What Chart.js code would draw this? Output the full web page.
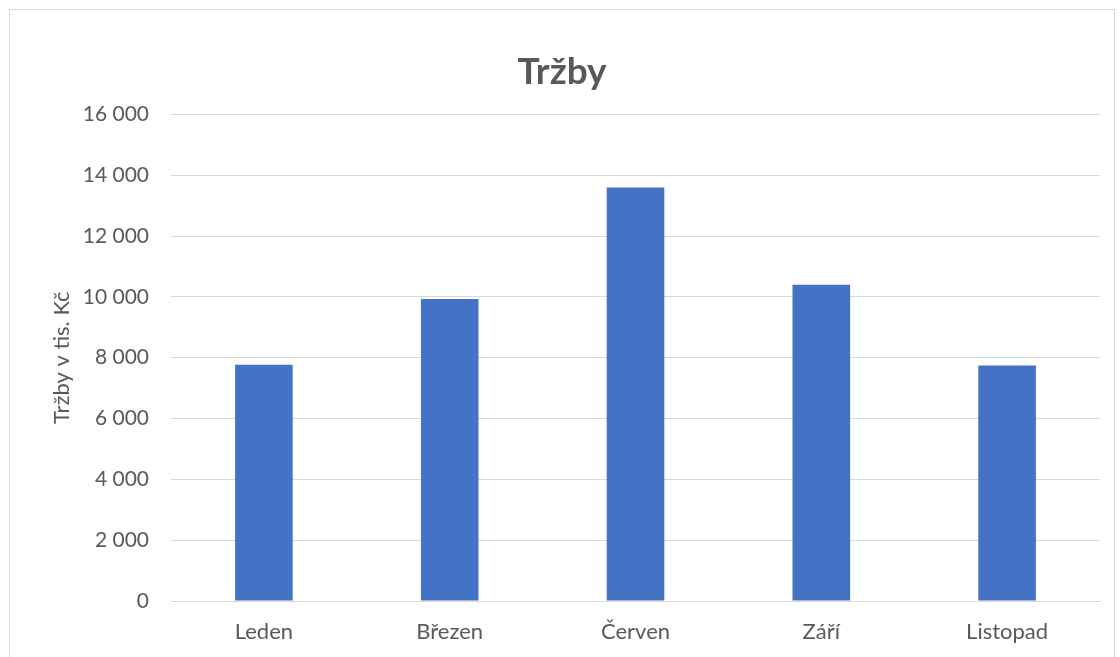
<!DOCTYPE html>
<html>
<head>
<meta charset="utf-8">
<script src="https://cdn.jsdelivr.net/npm/chart.js@4/dist/chart.umd.min.js"></script>
<style>
  body { margin: 0; background: #fff; }
  .frame { position: absolute; left: 9px; top: 9px; width: 1104px; height: 700px; border: 1px solid #d9d9d9; }
  .wrap { position: absolute; left: 0; top: 0; width: 1120px; height: 657px; }
</style>
</head>
<body>
<div class="frame"></div>
<div class="wrap"><canvas id="barChart" width="1120" height="657"></canvas></div>
<script>
var categories = ["Leden", "Březen", "Červen", "Září", "Listopad"];
var trzby = [7770, 9930, 13600, 10400, 7740];
var yTicks = [0, 2000, 4000, 6000, 8000, 10000, 12000, 14000, 16000];

var textColor = '#595959';
var fontFamily = 'Lato, "Open Sans", sans-serif';

function fmt(v) {
  return String(v).replace(/\B(?=(\d{3})+(?!\d))/g, ' ');
}

var ctx = document.getElementById("barChart").getContext('2d');
var myBarChart = new Chart(ctx, {
  type: 'bar',
  data: {
    labels: categories,
    datasets: [{
      label: "Tržby",
      data: trzby,
      backgroundColor: '#4472C4',
      borderWidth: 0,
      barPercentage: 0.62,
      categoryPercentage: 0.5
    }]
  },
  options: {
    responsive: false,
    animation: false,
    layout: { padding: { left: 24, right: 20, top: 50, bottom: 0 } },
    plugins: {
      legend: { display: false },
      tooltip: { enabled: false },
      title: {
        display: true,
        text: 'Tržby',
        color: textColor,
        font: { family: fontFamily, size: 37, weight: 'bold' },
        padding: { top: 0, bottom: 20 }
      }
    },
    scales: {
      x: {
        grid: { display: false, drawTicks: false },
        border: { color: '#d9d9d9', width: 1 },
        ticks: { color: textColor, font: { family: fontFamily, size: 22 }, padding: 18 },
        afterFit: function(scale) { scale.height = 56; }
      },
      y: {
        min: 0,
        max: 16000,
        afterBuildTicks: function(scale) {
          scale.ticks = yTicks.map(function(v) { return { value: v }; });
        },
        grid: { color: '#d9d9d9', lineWidth: 1, drawTicks: false },
        border: { display: false },
        ticks: {
          color: textColor,
          font: { family: fontFamily, size: 21 },
          padding: 22,
          callback: function(v) { return fmt(v); }
        },
        title: {
          display: true,
          text: 'Tržby v tis. Kč',
          color: textColor,
          font: { family: fontFamily, size: 22 },
          padding: { top: 25, bottom: 0 }
        },
        afterFit: function(scale) { scale.width = 147; }
      }
    }
  }
});
</script>
</body>
</html>
